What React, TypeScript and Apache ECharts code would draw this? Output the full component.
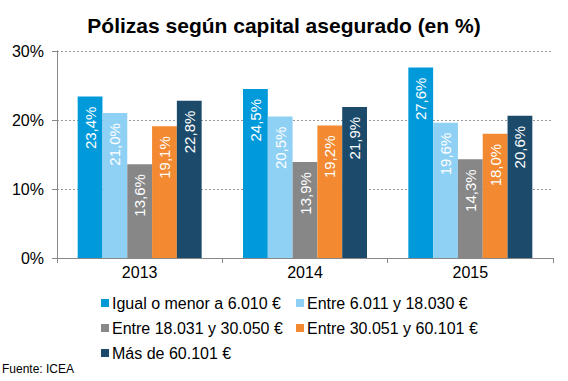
import React, { useEffect, useRef } from "react";
import * as echarts from "echarts";

const years = ["2013", "2014", "2015"];
const seriesNames = [
  "Igual o menor a 6.010 €",
  "Entre 6.011 y 18.030 €",
  "Entre 18.031 y 30.050 €",
  "Entre 30.051 y 60.101 €",
  "Más de 60.101 €",
];
const igual = [23.4, 24.5, 27.6];
const entre6 = [21.0, 20.5, 19.6];
const entre18 = [13.6, 13.9, 14.3];
const entre30 = [19.1, 19.2, 18.0];
const mas60 = [22.8, 21.9, 20.6];
const seriesValues = [igual, entre6, entre18, entre30, mas60];
const colors = ["#009ADB", "#8FD1F4", "#878787", "#F38A31", "#1B4A6B"];
const yTicks = [0, 10, 20, 30];

const FONT = "Liberation Sans, Arial, sans-serif";

export default function App() {
  const ref = useRef<HTMLDivElement>(null);
  useEffect(() => {
    const chart = echarts.init(ref.current!, null, { renderer: "svg" });
    const legendPos = [
      { left: 101, top: 295 },
      { left: 296, top: 295 },
      { left: 101, top: 320 },
      { left: 296, top: 320 },
      { left: 101, top: 345 },
    ];
    chart.setOption({
      animation: false,
      title: {
        text: "Pólizas según capital asegurado (en %)",
        left: "center",
        top: 10,
        textStyle: { fontFamily: FONT, fontSize: 21, fontWeight: "bold", color: "#000" },
      },
      graphic: [
        {
          type: "text",
          left: 2,
          top: 363,
          style: { text: "Fuente: ICEA", fontFamily: FONT, fontSize: 12, fill: "#000" },
        },
      ],
      legend: seriesNames.map((n, i) => ({
        data: [n],
        left: legendPos[i].left,
        top: legendPos[i].top,
        icon: "rect",
        itemWidth: 8,
        itemHeight: 8,
        itemGap: 4,
        padding: 0,
        textStyle: { fontFamily: FONT, fontSize: 16, color: "#000", padding: [0, 0, 0, -2] },
      })),
      grid: { left: 57, right: 15, top: 51, bottom: 123 },
      xAxis: {
        type: "category",
        data: years,
        axisLine: { lineStyle: { color: "#888", width: 1 } },
        axisTick: { show: true, length: 5, lineStyle: { color: "#888" } },
        axisLabel: { fontFamily: FONT, fontSize: 16, color: "#000", margin: 6 },
      },
      yAxis: {
        type: "value",
        min: 0,
        max: 30,
        interval: 10,
        axisLine: { show: true, lineStyle: { color: "#888", width: 1 } },
        axisTick: { show: true, length: 5, lineStyle: { color: "#888" } },
        axisLabel: {
          fontFamily: FONT,
          fontSize: 16,
          color: "#000",
          margin: 13,
          formatter: (v: number) => (yTicks.includes(v) ? v + "%" : ""),
        },
        splitLine: { show: true, lineStyle: { color: "#999", type: [2, 2], width: 1 } },
      },
      series: seriesNames.map((name, i) => ({
        name,
        type: "bar",
        data: seriesValues[i],
        barGap: "0%",
        barCategoryGap: "25%",
        itemStyle: { color: colors[i] },
        label: {
          show: true,
          position: "insideTop",
          rotate: 90,
          align: "right",
          verticalAlign: "middle",
          distance: 10,
          color: "#fff",
          fontFamily: FONT,
          fontSize: 15,
          formatter: (p: any) => p.value.toFixed(1).replace(".", ",") + "%",
        },
      })),
    });
    return () => chart.dispose();
  }, []);
  return <div ref={ref} style={{ width: 568, height: 381, position: "absolute", left: 0, top: 0, background: "#fff" }} />;
}
